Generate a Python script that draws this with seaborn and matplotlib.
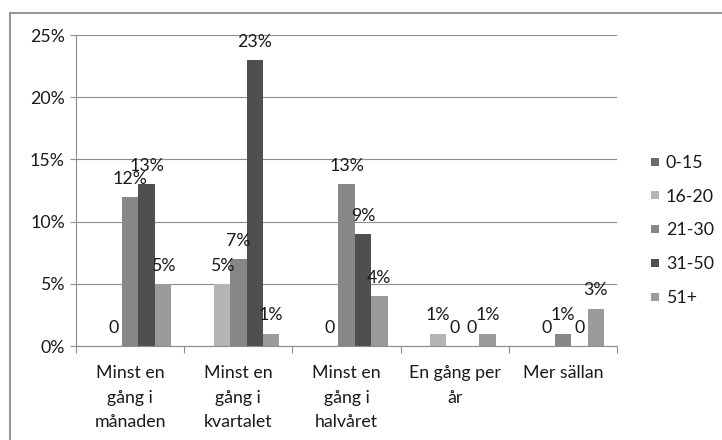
import numpy as np
import pandas as pd
import matplotlib
matplotlib.use("Agg")
import matplotlib.pyplot as plt
from matplotlib.lines import Line2D
import seaborn as sns

# Survey: how often, by age group (share of respondents)
categories = ["Minst en\ngång i\nmånaden", "Minst en\ngång i\nkvartalet",
              "Minst en\ngång i\nhalvåret", "En gång per\når", "Mer sällan"]
age_groups = ["0-15", "16-20", "21-30", "31-50", "51+"]

# values in percent; None = no answers in that group
v_0_15 = [None, None, None, None, None]
v_16_20 = [0, 5, 0, 1, 0]
v_21_30 = [12, 7, 13, 0, 1]
v_31_50 = [13, 23, 9, 0, 0]
v_51 = [5, 1, 4, 1, 3]

y_ticks = [0, 5, 10, 15, 20, 25]
colors = ["#6b6b6b", "#b5b5b5", "#878787", "#4f4f4f", "#9b9b9b"]

series = [v_0_15, v_16_20, v_21_30, v_31_50, v_51]
rows = []
for g, vals in zip(age_groups, series):
    for c, v in zip(categories, vals):
        rows.append({"kategori": c, "ålder": g,
                     "andel": np.nan if v is None else float(v)})
df = pd.DataFrame(rows)

sns.set_theme(style="white")
plt.rcParams["font.family"] = ["Lato", "DejaVu Sans"]
FS = 12.8
TXT = "#1a1a1a"
GRID = "#8c8c8c"

fig = plt.figure(figsize=(7.22, 4.40), dpi=100)
ax = fig.add_axes([76 / 722, 1 - 346 / 440, (617 - 76) / 722, (346 - 35) / 440])

sns.barplot(data=df, x="kategori", y="andel", hue="ålder",
            order=categories, hue_order=age_groups, palette=colors,
            width=0.76, errorbar=None, saturation=1, linewidth=0,
            legend=False, ax=ax)

ax.set_xlim(-0.5, len(categories) - 0.5)
ax.set_ylim(0, 25)
ax.set_yticks(y_ticks)
ax.set_yticklabels([f"{t}%" for t in y_ticks], fontsize=FS, color=TXT)
ax.yaxis.grid(True, color=GRID, linewidth=0.8)
ax.set_axisbelow(True)
ax.set_xlabel("")
ax.set_ylabel("")

for side in ["top", "right"]:
    ax.spines[side].set_visible(False)
for side in ["left", "bottom"]:
    ax.spines[side].set_color(GRID)
    ax.spines[side].set_linewidth(0.8)

ax.tick_params(axis="y", which="major", direction="out", length=4.5, width=0.8,
               color=GRID, pad=3.5, left=True)
ax.set_xticks(range(len(categories)))
ax.set_xticklabels(categories, fontsize=FS, color=TXT, linespacing=1.62, va="top")
ax.set_xticks(np.arange(-0.5, len(categories), 1.0), minor=True)
ax.tick_params(axis="x", which="major", length=0, pad=14)
ax.tick_params(axis="x", which="minor", direction="out", length=5, width=0.8,
               color=GRID, bottom=True)

# value labels above each bar
n = len(age_groups)
bw = 0.76 / n
for gi, vals in enumerate(series):
    for ci, v in enumerate(vals):
        if v is None:
            continue
        x = ci - 0.38 + bw * (gi + 0.5)
        label = "0" if v == 0 else f"{v}%"
        ax.annotate(label, (x, v), xytext=(0, 9.5), textcoords="offset points",
                    ha="center", va="baseline", fontsize=FS, color=TXT)

# legend on the right
handles = [Line2D([], [], marker="s", linestyle="none", markersize=6.2,
                  markerfacecolor=c, markeredgewidth=0) for c in colors]
fig.legend(handles, age_groups, loc="upper left",
           bbox_to_anchor=(641 / 722, 1 - 146 / 440), frameon=False,
           fontsize=FS, handlelength=0.6, handletextpad=0.3,
           labelspacing=1.0, borderpad=0, labelcolor=TXT)

# chart frame (left and top edges)
frame_c = "#8a8a8a"
fig.add_artist(Line2D([10 / 722, 10 / 722], [0, 1 - 13 / 440],
                      transform=fig.transFigure, color=frame_c, linewidth=1.3))
fig.add_artist(Line2D([10 / 722, 1], [1 - 13 / 440, 1 - 13 / 440],
                      transform=fig.transFigure, color=frame_c, linewidth=1.3))

fig.savefig("out.png", dpi=100)
